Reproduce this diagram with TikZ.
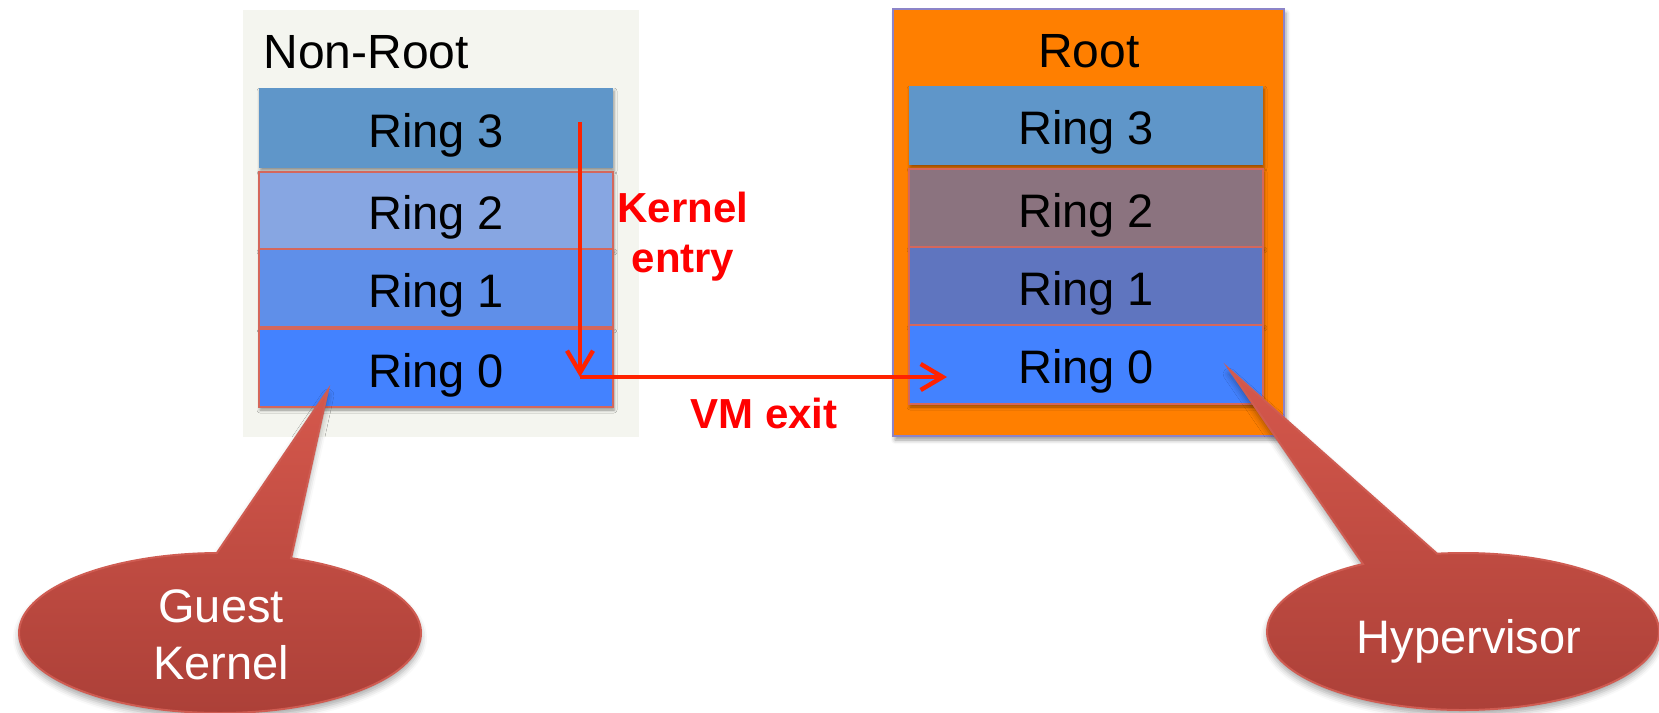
\documentclass[tikz,border=0pt]{standalone}
\usepackage{fontspec}
\setmainfont{Liberation Sans}
\usetikzlibrary{arrows.meta,shadows.blur,calc}

\definecolor{panelbg}{HTML}{F4F5EF}
\definecolor{rootorange}{HTML}{FF7F00}
\definecolor{rootedge}{HTML}{8C84C8}
\definecolor{ringthree}{HTML}{5F96C9}
\definecolor{guesttwo}{HTML}{87A6E2}
\definecolor{guestone}{HTML}{5F8FE9}
\definecolor{ringzero}{HTML}{4382FF}
\definecolor{hosttwo}{HTML}{8B737F}
\definecolor{hostone}{HTML}{5F75BF}
\definecolor{ringedge}{HTML}{D4675C}
\definecolor{flowred}{HTML}{FF2200}
\definecolor{labelred}{HTML}{FF0000}
\definecolor{calltop}{HTML}{D5584C}
\definecolor{callbot}{HTML}{AC4038}
\definecolor{calledge}{HTML}{CF5C52}

\begin{document}
\begin{tikzpicture}[x=0.5pt,y=-0.5pt,
  panel/.style={rectangle, inner sep=0pt},
  ring/.style={rectangle, inner sep=0pt, minimum width=177pt,
    text height=24pt, text depth=5pt, font=\fontsize{23.5}{28}\selectfont,
    blur shadow={shadow xshift=0.5pt, shadow yshift=-1.5pt,
      shadow blur radius=1.5pt, shadow opacity=40}},
  edged/.style={draw=ringedge, line width=1pt},
  title/.style={inner sep=0pt, font=\fontsize{24}{28}\selectfont},
  flow/.style={draw=flowred, line width=2.2pt,
    -{Straight Barb[length=11pt, width=13pt]}},
  flowlabel/.style={text=labelred, align=center,
    font=\bfseries\fontsize{21}{25}\selectfont},
  callout/.style={top color=calltop, bottom color=callbot,
    draw=calledge, line width=1pt,
    blur shadow={shadow xshift=0pt, shadow yshift=-2.5pt,
      shadow blur radius=3pt, shadow opacity=35}},
  calltext/.style={text=white, align=center,
    font=\fontsize{23.5}{28.5}\selectfont}
]
\useasboundingbox (0,0) rectangle (1659,712);

% guest side (non-root mode)
\node[panel, fill=panelbg, minimum width=198pt, minimum height=213.5pt]
  (nrpanel) at (441,223.5) {};
\node[title, anchor=base west] (nrtitle) at (263,68) {Non-Root};
\node[ring, fill=ringthree, minimum height=40pt] (g3) at (436,128) {Ring 3};
\node[ring, edged, fill=guesttwo, minimum height=38.5pt] (g2) at (436,210.5) {Ring 2};
\node[ring, edged, fill=guestone, minimum height=39pt] (g1) at (436,288) {Ring 1};
\node[ring, edged, fill=ringzero, minimum height=39pt] (g0) at (436,368) {Ring 0};

% host side (root mode)
\node[panel, fill=rootorange, draw=rootedge, line width=1pt,
  minimum width=195.5pt, minimum height=213.5pt,
  blur shadow={shadow xshift=1pt, shadow yshift=-2pt,
    shadow blur radius=2pt, shadow opacity=40}]
  (rpanel) at (1088.5,222.5) {};
\node[title, anchor=base] (rtitle) at (1089,67) {Root};
\node[ring, fill=ringthree, minimum height=39.5pt] (h3) at (1086,125.5) {Ring 3};
\node[ring, edged, fill=hosttwo, minimum height=39pt] (h2) at (1086,208) {Ring 2};
\node[ring, edged, fill=hostone, minimum height=39pt] (h1) at (1086,286) {Ring 1};
\node[ring, edged, fill=ringzero, minimum height=39.5pt] (h0) at (1086,364.5) {Ring 0};

% transitions
\coordinate (ks) at (580,122);
\coordinate (kc) at (580,377);
\coordinate (ve) at (947,377);
\draw[flow] (ks) -- (kc);
\draw[flow] (kc) -- (ve);
\node[flowlabel] (kentry) at (683,236.5) {Kernel\\entry};
\node[flowlabel, anchor=base] (vmexit) at (764,428) {VM exit};

% callouts
\coordinate (gkc) at (220,633);
\coordinate (gktip) at (328,390);
\shadedraw[callout] ($(gkc)+(-69.3:201 and 80)$) -- (gktip)
  -- ($(gkc)+(-90.9:201 and 80)$)
  arc[start angle=-90.9, end angle=-429.3, x radius=201, y radius=80] -- cycle;
\node[calltext] (gk) at (221,634.6) {Guest\\Kernel};

\coordinate (hvc) at (1463,631.5);
\coordinate (hvtip) at (1229,369);
\shadedraw[callout] ($(hvc)+(-120.7:196 and 78.5)$) -- (hvtip)
  -- ($(hvc)+(-97.6:196 and 78.5)$)
  arc[start angle=-97.6, end angle=239.3, x radius=196, y radius=78.5] -- cycle;
\node[calltext, anchor=base] (hv) at (1469,653) {Hypervisor};
\end{tikzpicture}
\end{document}
